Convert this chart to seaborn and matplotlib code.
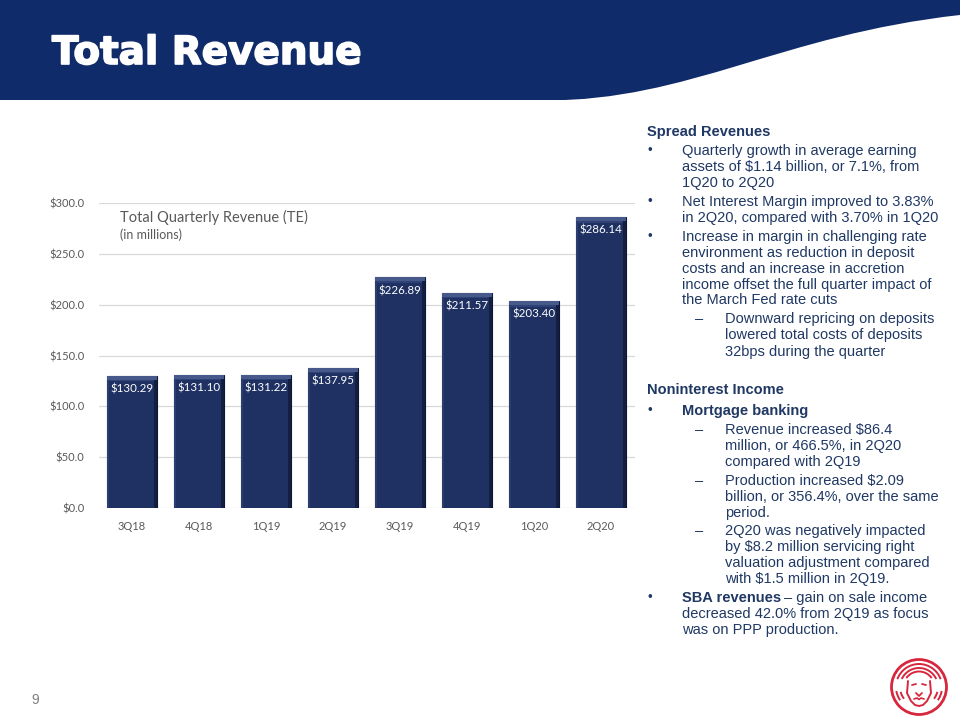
import numpy as np
import pandas as pd
import matplotlib
matplotlib.use("Agg")
import matplotlib.pyplot as plt
import seaborn as sns
from matplotlib.patches import Rectangle, Circle, Arc
from matplotlib.path import Path
from matplotlib.patches import PathPatch
import matplotlib.patheffects as pe

# ---------------- data ----------------
quarters = ["3Q18", "4Q18", "1Q19", "2Q19", "3Q19", "4Q19", "1Q20", "2Q20"]
revenue = [130.29, 131.10, 131.22, 137.95, 226.89, 211.57, 203.40, 286.14]
y_ticks = [0, 50, 100, 150, 200, 250, 300]

title_text = "Total Revenue"
chart_title = "Total Quarterly Revenue (TE)"
chart_subtitle = "(in millions)"
page_number = "9"

# ---------------- style ----------------
sns.set_theme(style="white")
plt.rcParams["font.family"] = ["Liberation Sans", "DejaVu Sans"]

NAVY = "#0f2b69"
BAR = "#1f3162"
TEXT = "#1f3864"
GRAY = "#595959"
RED = "#d7263d"

W, H = 960, 720
fig = plt.figure(figsize=(9.6, 7.2), dpi=100)
fig.patch.set_facecolor("white")


def fx(x):
    return x / W


def fy(y):
    return 1 - y / H


# ---------------- header band with wave ----------------
bg = fig.add_axes([0, 0, 1, 1], zorder=-5)
bg.set_xlim(0, W)
bg.set_ylim(H, 0)
bg.axis("off")
bg.add_patch(Rectangle((0, 0), W, 100, facecolor=NAVY, edgecolor="none"))
verts = [(545, 100.5), (690, 100.5), (780, 35), (960, 15), (961, 15), (961, 101), (545, 101)]
codes = [Path.MOVETO, Path.CURVE4, Path.CURVE4, Path.CURVE4, Path.LINETO, Path.LINETO, Path.CLOSEPOLY]
bg.add_patch(PathPatch(Path(verts, codes), facecolor="white", edgecolor="none"))

fig.text(fx(52), fy(53), title_text, color="white", fontsize=28, fontweight="bold",
         va="center", ha="left", family=["DejaVu Sans"],
         path_effects=[pe.withStroke(linewidth=1.2, foreground="white")])

# ---------------- bar chart ----------------
ax = fig.add_axes([fx(98.5), fy(508), fx(634.5) - fx(98.5), fy(203) - fy(508)])
df = pd.DataFrame({"quarter": quarters, "revenue": revenue})
sns.barplot(data=df, x="quarter", y="revenue", color=BAR, saturation=1, width=0.75,
            edgecolor="#0b1738", linewidth=0.8, ax=ax, zorder=3)
ax.set_ylim(0, 300)
ax.set_xlim(-0.5, len(quarters) - 0.5)
ax.set_yticks(y_ticks)
ax.set_yticklabels([f"${v:.1f}" for v in y_ticks], color=GRAY, fontsize=8,
                   family=["Lato", "DejaVu Sans"])
ax.set_xticks(range(len(quarters)))
ax.set_xticklabels(quarters, color=GRAY, fontsize=8, family=["Lato", "DejaVu Sans"])
ax.tick_params(axis="both", length=0)
ax.tick_params(axis="y", pad=10)
ax.tick_params(axis="x", pad=9)
ax.set_xlabel("")
ax.set_ylabel("")
for s in ax.spines.values():
    s.set_visible(False)
ax.grid(axis="y", color="#d9d9d9", linewidth=0.9, zorder=0)
ax.set_axisbelow(True)

# bevel effect + value labels drawn from bar patches
for p, val in zip(ax.patches, revenue):
    x0, w, h = p.get_x(), p.get_width(), p.get_height()
    ax.add_patch(Rectangle((x0, h - 4.0), w, 4.0, facecolor="#46598a", edgecolor="none", zorder=4))
    ax.add_patch(Rectangle((x0, h - 5.5), w, 1.5, facecolor="#2f4275", edgecolor="none", zorder=4))
    ax.add_patch(Rectangle((x0 + w - 0.05, 0), 0.05, h - 4.0, facecolor="#141f40", edgecolor="none", zorder=4))
    ax.add_patch(Rectangle((x0, 0), 0.035, h - 4.0, facecolor="#2a3d6e", edgecolor="none", zorder=4))
    ax.text(x0 + w / 2, h - 13, f"${val:.2f}", color="white", ha="center", va="center",
            fontsize=8.3, family=["Lato", "DejaVu Sans"], zorder=5)

ax.text(0.041, 0.954, chart_title, transform=ax.transAxes, color=GRAY, fontsize=10.5,
        ha="left", va="center", family=["Lato", "DejaVu Sans"])
ax.text(0.041, 0.895, chart_subtitle, transform=ax.transAxes, color=GRAY, fontsize=9,
        ha="left", va="center", family=["Lato", "DejaVu Sans"])

# ---------------- right-hand commentary ----------------
FS = 10.5
lines = [
    (132, "h", "Spread Revenues"),
    (151, "b", "Quarterly growth in average earning"),
    (167, "t1", "assets of $1.14 billion, or 7.1%, from"),
    (183, "t1", "1Q20 to 2Q20"),
    (202, "b", "Net Interest Margin improved to 3.83%"),
    (218, "t1", "in 2Q20, compared with 3.70% in 1Q20"),
    (237, "b", "Increase in margin in challenging rate"),
    (253, "t1", "environment as reduction in deposit"),
    (269, "t1", "costs and an increase in accretion"),
    (285, "t1", "income offset the full quarter impact of"),
    (300, "t1", "the March Fed rate cuts"),
    (319, "d", "Downward repricing on deposits"),
    (335, "t2", "lowered total costs of deposits"),
    (352, "t2", "32bps during the quarter"),
    (390, "h", "Noninterest Income"),
    (411, "bb", "Mortgage banking"),
    (430, "d", "Revenue increased $86.4"),
    (446, "t2", "million, or 466.5%, in 2Q20"),
    (462, "t2", "compared with 2Q19"),
    (481, "d", "Production increased $2.09"),
    (497, "t2", "billion, or 356.4%, over the same"),
    (513, "t2", "period."),
    (531, "d", "2Q20 was negatively impacted"),
    (547, "t2", "by $8.2 million servicing right"),
    (563, "t2", "valuation adjustment compared"),
    (579, "t2", "with $1.5 million in 2Q19."),
    (598, "sba", "gain on sale income"),
    (614, "t1", "decreased 42.0% from 2Q19 as focus"),
    (630, "t1", "was on PPP production."),
]

for y, kind, txt in lines:
    if kind == "h":
        fig.text(fx(647), fy(y), txt, color=TEXT, fontsize=FS, fontweight="bold", va="center")
    elif kind in ("b", "bb", "sba"):
        fig.text(fx(647), fy(y), "\u2022", color=TEXT, fontsize=FS - 1, va="center")
        if kind == "b":
            fig.text(fx(682), fy(y), txt, color=TEXT, fontsize=FS, va="center")
        elif kind == "bb":
            fig.text(fx(682), fy(y), txt, color=TEXT, fontsize=FS, fontweight="bold", va="center")
        else:
            fig.text(fx(682), fy(y), "SBA revenues", color=TEXT, fontsize=FS,
                     fontweight="bold", va="center")
            fig.text(fx(784), fy(y), "\u2013 " + txt, color=TEXT, fontsize=FS, va="center")
    elif kind == "t1":
        fig.text(fx(682), fy(y), txt, color=TEXT, fontsize=FS, va="center")
    elif kind == "d":
        fig.text(fx(695), fy(y), "\u2013", color=TEXT, fontsize=FS, va="center")
        fig.text(fx(725), fy(y), txt, color=TEXT, fontsize=FS, va="center")
    elif kind == "t2":
        fig.text(fx(725), fy(y), txt, color=TEXT, fontsize=FS, va="center")

# page number
fig.text(fx(35), fy(700), page_number, color="#7f7f7f", fontsize=10, ha="center", va="center")

# ---------------- logo (lion in circle) ----------------
lg = fig.add_axes([fx(889), fy(717), fx(60), fy(0) - fy(60)], zorder=2)
lg.set_xlim(-30, 30)
lg.set_ylim(-30, 30)
lg.set_aspect("equal")
lg.axis("off")
lg.add_patch(Circle((0, 0), 27.5, fill=False, edgecolor=RED, lw=2.0))
for r, t1, t2 in [(23, 20, 160), (19, 25, 155), (15.5, 35, 145)]:
    lg.add_patch(Arc((0, 0), 2 * r, 2 * r, theta1=t1, theta2=t2, color=RED, lw=1.4))
for r, t1, t2 in [(23, 190, 215), (23, 325, 350), (19, 195, 218), (19, 322, 345)]:
    lg.add_patch(Arc((0, 0), 2 * r, 2 * r, theta1=t1, theta2=t2, color=RED, lw=1.4))
face_x = [-11, -12, -8, -4, 0, 4, 8, 12, 11]
face_y = [6, -6, -14, -18, -19, -18, -14, -6, 6]
lg.plot(face_x, face_y, color=RED, lw=1.4)
lg.plot([-7, -3], [2, 3], color=RED, lw=1.3)
lg.plot([3, 7], [3, 2], color=RED, lw=1.3)
lg.plot([-3, 0, 3], [-6, -9, -6], color=RED, lw=1.3)
lg.plot([-5, -2, 0, 2, 5], [-12, -11, -12.5, -11, -12], color=RED, lw=1.2)

fig.savefig("out.png", dpi=100, facecolor="white")
